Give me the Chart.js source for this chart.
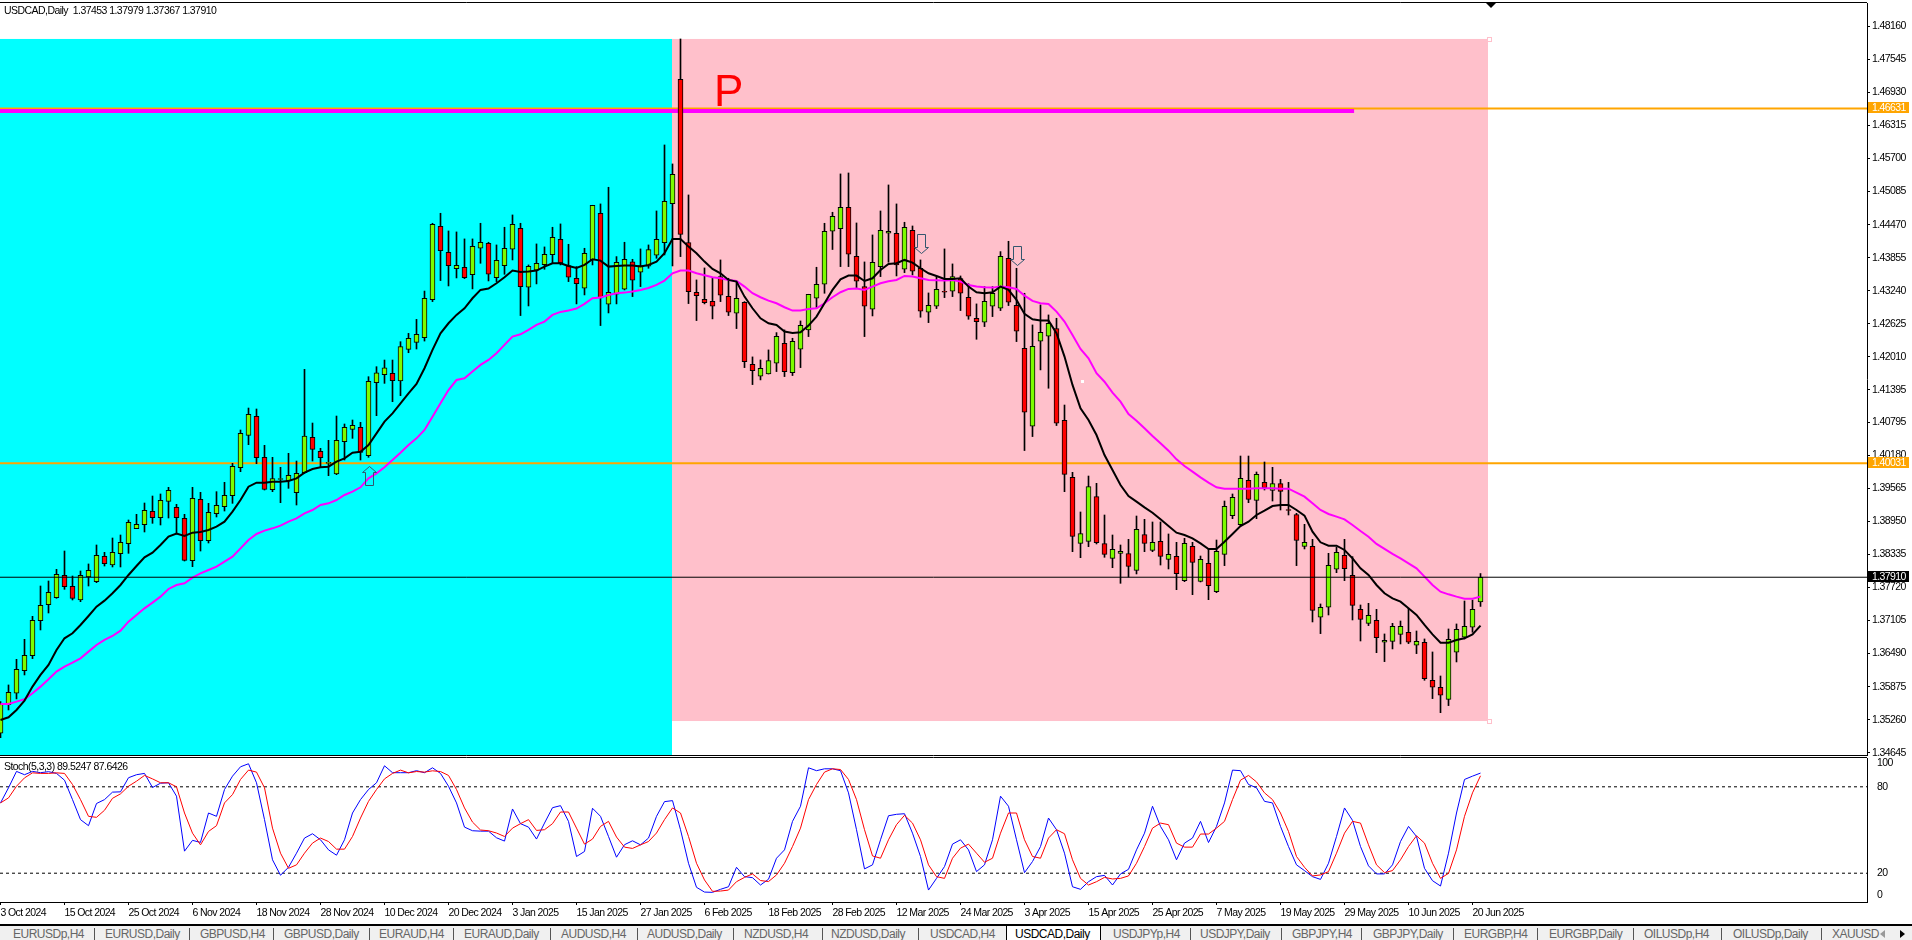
<!DOCTYPE html>
<html>
<head>
<meta charset="utf-8">
<title>USDCAD,Daily</title>
<script src="https://cdn.jsdelivr.net/npm/chart.js@4"></script>
<style>
  html, body { margin: 0; padding: 0; background: #fff; width: 1912px; height: 940px; overflow: hidden; }
  body { position: relative; font-family: "Liberation Sans", sans-serif; }
  canvas { position: absolute; left: 0; }
  #chartPrecio { top: 0; z-index: 1; }
  #chartStoch { top: 750px; z-index: 2; }
  .rotulo { position: absolute; white-space: nowrap; z-index: 3; color: #000; font-size: 10.5px; line-height: 13px; letter-spacing: -0.55px; }
  #tabs { position: absolute; left: 0; top: 924px; width: 1912px; height: 16px; background: #f0f0f0; border-top: 2px solid #000; box-sizing: border-box; overflow: hidden; z-index: 3; }
  #tabs span { position: absolute; top: 1px; font-size: 12px; line-height: 15px; letter-spacing: -0.5px; color: #666; white-space: nowrap; }
  #tabs i { position: absolute; top: 2px; width: 1px; height: 15px; background: #555; }
  #tabActiva { position: absolute; left: 1006px; top: -2px; width: 95px; height: 19px; background: #fff; border-left: 1px solid #000; border-right: 1px solid #000; box-sizing: border-box; }
  .tri { position: absolute; top: 4px; width: 0; height: 0; border-top: 4px solid transparent; border-bottom: 4px solid transparent; }
</style>
</head>
<body>
<canvas id="chartPrecio" width="1912" height="770"></canvas>
<canvas id="chartStoch" width="1912" height="180"></canvas>
<div class="rotulo" style="left:4px;top:4px;">USDCAD,Daily &nbsp;1.37453 1.37979 1.37367 1.37910</div>
<div class="rotulo" style="left:4px;top:760px;">Stoch(5,3,3) 89.5247 87.6426</div>
<div class="rotulo" style="left:714px;top:66px;font-size:44px;line-height:50px;letter-spacing:0;color:#ff0000;">P</div>
<div id="tabs"><div id="tabActiva"></div></div>
<script>
// velas diarias USDCAD
const opens = [
  1.35007,1.35540,1.35751,1.36173,1.36452,1.37103,1.37400,1.37530,1.37947,1.37741,
  1.37487,1.37915,1.37828,1.38299,1.38138,1.38349,1.38535,1.38814,1.38888,1.39136,
  1.39018,1.39322,1.39211,1.39006,1.38219,1.39359,1.38591,1.39093,1.39223,1.39428,
  1.39948,1.40550,1.40903,1.40141,1.39539,1.39731,1.39707,1.39483,1.39855,1.40515,
  1.40252,1.40029,1.39831,1.40432,1.40661,1.40699,1.40172,1.41529,1.41678,1.41703,
  1.41560,1.42149,1.42280,1.42366,1.43075,1.44439,1.43956,1.43652,1.43677,1.43540,
  1.44030,1.44123,1.43484,1.43708,1.44011,1.44402,1.43305,1.43621,1.43726,1.43912,
  1.44197,1.43708,1.43472,1.43286,1.43819,1.44681,1.42988,1.43174,1.43267,1.43779,
  1.43584,1.43695,1.43900,1.44135,1.44861,1.47173,1.44135,1.43212,1.43081,1.43044,
  1.43503,1.43137,1.42821,1.43026,1.41872,1.41649,1.41691,1.41891,1.42263,1.41717,
  1.42151,1.42511,1.43100,1.43360,1.44346,1.44396,1.44793,1.43881,1.43317,1.42895,
  1.43689,1.44309,1.44309,1.43639,1.44365,1.43658,1.42840,1.42951,1.43230,1.43230,
  1.43466,1.43119,1.42728,1.42654,1.42951,1.42914,1.43844,1.42970,1.42170,1.40719,
  1.42300,1.42393,1.42536,1.40829,1.39769,1.38541,1.38578,1.39409,1.38535,1.38262,
  1.38355,1.38349,1.38039,1.38702,1.38411,1.38578,1.38243,1.38299,1.37847,1.38485,
  1.37834,1.38169,1.37642,1.38336,1.39056,1.38888,1.39713,1.39341,1.39676,1.39527,
  1.39651,1.39167,1.39074,1.38485,1.38485,1.37165,1.37351,1.38060,1.38318,1.37946,
  1.37313,1.37053,1.37109,1.36700,1.36718,1.36848,1.36886,1.36644,1.36700,1.35993,
  1.35863,1.35639,1.36514,1.36793,1.36979,1.37453
];
const closes = [
  1.35553,1.35770,1.36197,1.36458,1.37109,1.37388,1.37630,1.37964,1.37735,1.37518,
  1.37947,1.38039,1.38318,1.38163,1.38374,1.38560,1.38932,1.38894,1.39155,1.39018,
  1.39341,1.39527,1.39018,1.38225,1.39378,1.38591,1.39118,1.39248,1.39434,1.39973,
  1.40587,1.40940,1.40134,1.39545,1.39744,1.39744,1.39806,1.39843,1.40537,1.40289,
  1.40134,1.40048,1.40457,1.40699,1.40736,1.40234,1.41554,1.41715,1.41808,1.41567,
  1.42199,1.42354,1.42428,1.43098,1.44476,1.43987,1.43708,1.43714,1.43484,1.44067,
  1.44142,1.43546,1.43807,1.44030,1.44476,1.43317,1.43695,1.43751,1.43918,1.44235,
  1.43757,1.43491,1.43373,1.43937,1.44830,1.43106,1.43212,1.43770,1.43825,1.43435,
  1.43708,1.44005,1.44197,1.44904,1.45406,1.44290,1.43224,1.43150,1.43019,1.42951,
  1.43156,1.42840,1.43100,1.41922,1.41755,1.41798,1.41941,1.42393,1.41736,1.42300,
  1.42598,1.43174,1.43360,1.44346,1.44625,1.44793,1.43918,1.43416,1.42951,1.43770,
  1.44365,1.44346,1.43720,1.44421,1.43602,1.42858,1.42970,1.43267,1.43212,1.43503,
  1.43193,1.42765,1.42666,1.43044,1.43193,1.43881,1.43026,1.42486,1.40980,1.42207,
  1.42468,1.42635,1.40775,1.39824,1.38671,1.38721,1.39595,1.38553,1.38336,1.38429,
  1.38392,1.38113,1.38801,1.38541,1.38560,1.38299,1.38336,1.37977,1.38541,1.38188,
  1.38243,1.37754,1.38392,1.39229,1.39397,1.39750,1.39359,1.39824,1.39576,1.39651,
  1.39508,1.39155,1.38597,1.38560,1.37295,1.37351,1.38132,1.38374,1.38070,1.37388,
  1.37127,1.37202,1.36786,1.36737,1.36997,1.36997,1.36700,1.36718,1.36024,1.35863,
  1.35714,1.36755,1.36941,1.36997,1.37313,1.37910
];
const highs = [
  1.35596,1.35906,1.36383,1.36755,1.37183,1.37747,1.37840,1.38057,1.38398,1.37933,
  1.38026,1.38157,1.38510,1.38374,1.38640,1.38696,1.38975,1.39080,1.39291,1.39421,
  1.39459,1.39583,1.39266,1.39080,1.39583,1.39490,1.39285,1.39502,1.39676,1.40029,
  1.40649,1.41058,1.41040,1.40364,1.40141,1.39955,1.40215,1.40072,1.41777,1.40779,
  1.40308,1.40457,1.40909,1.40761,1.40835,1.40792,1.41641,1.41827,1.41951,1.41951,
  1.42292,1.42447,1.42707,1.43234,1.44495,1.44681,1.44352,1.44334,1.44204,1.44204,
  1.44495,1.44142,1.44092,1.44421,1.44650,1.44495,1.43720,1.44111,1.44055,1.44421,
  1.44483,1.44104,1.43689,1.44030,1.44830,1.44855,1.45165,1.43875,1.44142,1.43825,
  1.44018,1.44092,1.44724,1.45952,1.45599,1.47924,1.45022,1.43441,1.43664,1.43472,
  1.43813,1.43472,1.43410,1.43038,1.42009,1.41953,1.42139,1.42461,1.42511,1.42356,
  1.42678,1.43174,1.43677,1.44495,1.44700,1.45413,1.45431,1.44501,1.43776,1.44278,
  1.44724,1.45208,1.44855,1.44514,1.44445,1.43813,1.43199,1.43503,1.44018,1.43739,
  1.43515,1.43369,1.42995,1.43317,1.43317,1.43968,1.44160,1.43658,1.43193,1.42604,
  1.42976,1.42790,1.42728,1.41114,1.39862,1.39124,1.39793,1.39657,1.39068,1.38696,
  1.38510,1.38615,1.39049,1.38987,1.38938,1.38938,1.38715,1.38560,1.38634,1.38560,
  1.38305,1.38448,1.38603,1.39328,1.39459,1.40165,1.40165,1.39868,1.40054,1.39955,
  1.39731,1.39676,1.39099,1.38894,1.38615,1.37413,1.38355,1.38467,1.38615,1.38293,
  1.37394,1.37425,1.37313,1.36855,1.37053,1.37096,1.37332,1.36910,1.36762,1.36520,
  1.36073,1.36948,1.37041,1.37468,1.37487,1.37979
];
const lows = [
  1.34926,1.35441,1.35646,1.36092,1.36396,1.36929,1.37245,1.37518,1.37685,1.37487,
  1.37456,1.37747,1.37809,1.38119,1.38101,1.38101,1.38355,1.38814,1.38752,1.38913,
  1.38882,1.39012,1.38715,1.38212,1.38107,1.38398,1.38547,1.39031,1.39142,1.39285,
  1.39874,1.40376,1.40023,1.39533,1.39502,1.39297,1.39564,1.39254,1.39843,1.40072,
  1.39955,1.39800,1.39818,1.40091,1.40494,1.40091,1.40141,1.40916,1.41517,1.41176,
  1.41288,1.42087,1.42156,1.42304,1.43038,1.43429,1.43329,1.43478,1.43466,1.43274,
  1.43751,1.43422,1.43410,1.43546,1.43813,1.42778,1.42957,1.43367,1.43639,1.43751,
  1.43720,1.43410,1.42995,1.43162,1.43720,1.42592,1.42827,1.42995,1.43255,1.43131,
  1.43317,1.43658,1.43844,1.43906,1.43701,1.43875,1.43001,1.42685,1.42995,1.42716,
  1.43038,1.42778,1.42536,1.41810,1.41494,1.41581,1.41691,1.41736,1.41643,1.41662,
  1.41810,1.42387,1.42914,1.43193,1.44007,1.43689,1.43689,1.43286,1.42387,1.42771,
  1.43503,1.43770,1.43515,1.43577,1.43534,1.42747,1.42647,1.42908,1.43112,1.43131,
  1.42871,1.42709,1.42337,1.42573,1.42759,1.42871,1.42964,1.42294,1.40267,1.40527,
  1.41767,1.41426,1.40732,1.39502,1.38386,1.38274,1.38479,1.38529,1.38281,1.38088,
  1.37797,1.37915,1.37971,1.38386,1.38386,1.38137,1.38064,1.37679,1.37828,1.37586,
  1.37822,1.37493,1.37623,1.38126,1.39000,1.38863,1.39297,1.39000,1.39533,1.39328,
  1.39161,1.39068,1.38126,1.38436,1.37078,1.36861,1.37208,1.37995,1.37847,1.37115,
  1.36724,1.37010,1.36507,1.36340,1.36576,1.36669,1.36675,1.36489,1.35993,1.35652,
  1.35391,1.35522,1.36334,1.36762,1.36886,1.37367
];

// medias moviles
const maRapida = [
  1.35255,1.35305,1.35441,1.35615,1.35875,1.36092,1.36278,1.36557,1.36774,1.36867,
  1.37022,1.37189,1.37363,1.37475,1.37611,1.37766,1.37952,1.38119,1.38281,1.38367,
  1.38510,1.38665,1.38721,1.38677,1.38739,1.38752,1.38789,1.38851,1.38944,1.39130,
  1.39347,1.39595,1.39669,1.39669,1.39688,1.39688,1.39700,1.39750,1.39855,1.39924,
  1.39955,1.39967,1.40060,1.40122,1.40227,1.40246,1.40370,1.40587,1.40804,1.40959,
  1.41145,1.41331,1.41505,1.41798,1.42139,1.42449,1.42635,1.42790,1.42914,1.43100,
  1.43255,1.43280,1.43379,1.43491,1.43615,1.43590,1.43596,1.43615,1.43689,1.43751,
  1.43751,1.43701,1.43664,1.43720,1.43825,1.43801,1.43689,1.43701,1.43708,1.43708,
  1.43689,1.43720,1.43782,1.43937,1.44204,1.44204,1.44061,1.43937,1.43782,1.43646,
  1.43565,1.43441,1.43410,1.43131,1.42914,1.42728,1.42635,1.42604,1.42480,1.42455,
  1.42468,1.42592,1.42759,1.43007,1.43255,1.43453,1.43522,1.43522,1.43422,1.43472,
  1.43627,1.43739,1.43751,1.43813,1.43763,1.43658,1.43565,1.43515,1.43460,1.43460,
  1.43472,1.43317,1.43212,1.43193,1.43212,1.43317,1.43255,1.43069,1.42809,1.42709,
  1.42685,1.42685,1.42449,1.42015,1.41488,1.41054,1.40835,1.40556,1.40184,1.39905,
  1.39626,1.39421,1.39316,1.39211,1.39111,1.38987,1.38863,1.38739,1.38696,1.38634,
  1.38541,1.38436,1.38436,1.38572,1.38715,1.38863,1.38944,1.39068,1.39149,1.39235,
  1.39254,1.39254,1.39161,1.39056,1.38758,1.38560,1.38498,1.38498,1.38417,1.38262,
  1.38076,1.37952,1.37766,1.37611,1.37518,1.37456,1.37332,1.37208,1.37022,1.36848,
  1.36693,1.36693,1.36743,1.36774,1.36848,1.37010
];
const maLenta = [
  1.35553,1.35553,1.35596,1.35639,1.35751,1.35875,1.36011,1.36154,1.36247,1.36321,
  1.36402,1.36526,1.36650,1.36743,1.36817,1.36917,1.37084,1.37208,1.37332,1.37437,
  1.37549,1.37692,1.37766,1.37797,1.37902,1.37983,1.38045,1.38107,1.38200,1.38293,
  1.38448,1.38603,1.38715,1.38777,1.38820,1.38870,1.38944,1.39006,1.39099,1.39161,
  1.39254,1.39285,1.39347,1.39440,1.39502,1.39583,1.39750,1.39843,1.39955,1.40091,
  1.40227,1.40370,1.40494,1.40649,1.40897,1.41145,1.41393,1.41579,1.41612,1.41736,
  1.41860,1.41953,1.42077,1.42232,1.42387,1.42430,1.42511,1.42604,1.42666,1.42790,
  1.42846,1.42871,1.42908,1.42995,1.43100,1.43112,1.43162,1.43193,1.43205,1.43224,
  1.43255,1.43292,1.43348,1.43429,1.43565,1.43615,1.43615,1.43565,1.43528,1.43491,
  1.43472,1.43441,1.43422,1.43317,1.43193,1.43119,1.43057,1.43007,1.42933,1.42871,
  1.42871,1.42902,1.42914,1.43007,1.43119,1.43212,1.43274,1.43280,1.43255,1.43317,
  1.43379,1.43416,1.43441,1.43515,1.43503,1.43472,1.43441,1.43435,1.43429,1.43441,
  1.43410,1.43348,1.43317,1.43305,1.43298,1.43317,1.43305,1.43274,1.43150,1.43050,
  1.43007,1.42995,1.42852,1.42666,1.42418,1.42158,1.41984,1.41705,1.41548,1.41343,
  1.41176,1.40947,1.40823,1.40680,1.40537,1.40401,1.40265,1.40103,1.39979,1.39874,
  1.39769,1.39669,1.39583,1.39558,1.39558,1.39558,1.39558,1.39564,1.39564,1.39564,
  1.39558,1.39558,1.39483,1.39409,1.39285,1.39161,1.39087,1.39037,1.38987,1.38882,
  1.38770,1.38665,1.38529,1.38436,1.38343,1.38262,1.38169,1.38076,1.37921,1.37766,
  1.37642,1.37592,1.37549,1.37512,1.37512,1.37549
];

// estocastico (5,3,3)
const stochMain = [
  68.8,79.3,90.7,88.4,90.7,89.8,90.5,89.3,84.6,71.1,57.2,53,68.4,71.1,76.3,76.5,86.3,88.4,89.3,79.5,
  82.5,82.8,73.5,35.3,42.8,41.4,61.8,59.5,78.1,87.4,93.9,96,82.8,57.2,29.3,18.6,24.1,33.9,44.4,47.4,
  43.2,36.2,32.5,43.2,61.8,71.1,78.1,82.8,94.6,89.8,89.8,89.8,91.2,89.8,93.2,89.3,80.4,68.8,52,49.5,
  49.2,49.2,44.6,42.3,64.6,54.4,52,43.7,54.8,65.5,66.9,56,31.6,35.1,65.1,59.5,45.5,31.1,39.8,42.5,
  39.7,44.4,59.5,69.7,70.4,50.2,26.9,10.2,6.9,6.7,8.8,10.6,24.1,17.6,16.9,11.8,15.8,30.4,36.2,56,
  66.5,93.2,91.2,92.5,92.5,91.2,75.8,50.2,23,25.8,43.2,59.9,60.9,61.3,47.8,31.6,8.3,16.4,24.6,40.2,
  43.2,36.2,21.1,25.8,43.2,73.5,66.5,43.2,20.4,28.1,38.5,58.3,50.2,33.9,10.6,8.8,14.1,17.6,18.5,11.8,
  19.5,22.7,36.2,47.8,66.5,52.5,43.2,29.3,40.9,44.4,56,41.3,52.5,68.8,91.6,91.2,81.6,79.3,69.9,68.8,
  52.5,38.5,25.8,21.8,17.6,15.7,26.9,45.5,65.3,56.7,38.5,25.1,19.5,19.5,25.8,42,52.5,45.5,23.4,14.8,
  11.1,33.9,61.8,85.1,87.4,89.52
];
const stochSignal = [
  68.8,72.3,80.4,86.2,89.7,89.3,89.3,89.7,89.3,81.6,71.1,59.5,58.8,63.7,72,75.1,80.4,83.9,87.9,85.5,
  82.8,82.8,80,61.8,47.8,39.7,49,53,68.8,74.6,85.1,91.6,90.2,79.3,51.3,33.9,23.4,25.8,33.9,40.9,
  44.4,42,36.7,36.7,45.5,58.3,69.9,78.1,85.5,89.3,91.6,89.7,90.6,90.2,91.1,90.6,87.9,78.1,65.3,55.5,
  50,49.5,47.9,45.5,51.3,54.4,57.2,49.7,50.2,54.4,62.5,62.5,51.3,40.2,43.7,52.5,56,45.1,38.1,37.2,
  39.7,42,47.9,57.2,65.3,61.8,45.5,26.9,15.3,7.4,7.6,8.3,14.1,17.1,19.5,14.9,14.2,18.8,26.9,38.5,
  51.3,71.1,81.6,90.2,92.5,92,85.1,71.1,50.2,32,30.4,43.2,53.7,60.2,54.8,43.2,25.8,17.6,16.4,30.4,
  37.4,40.2,33.9,27.6,30.4,47.8,61.8,61.8,43.2,31.6,30.4,44.4,50.2,47.4,29.3,16.4,11.8,14.1,17.1,16,
  16.4,18.1,26.9,38.5,51.3,54.8,53.7,40.9,38.1,38.1,47.2,47.2,51.3,56,71.1,84.6,87.9,83.4,75.8,71.1,
  61.8,49,31.6,24.1,18.1,18.8,21.1,33.9,47.8,56,54.8,39.7,25.8,20.4,21.8,29.3,38.5,46,40.9,26.9,
  16.4,19.9,36.2,59.5,75.8,87.64
];

// ejes
const priceTicks = [1.48160,1.47545,1.46930,1.46315,1.45700,1.45085,1.44470,1.43855,1.43240,1.42625,1.42010,1.41395,1.40795,1.40180,1.39565,1.38950,1.38335,1.37720,1.37105,1.36490,1.35875,1.35260,1.34645];
const dateTickBars = [0,8,16,24,32,40,48,56,64,72,80,88,96,104,112,120,128,136,144,152,160,168,176,184];
const dateLabels = ['3 Oct 2024','15 Oct 2024','25 Oct 2024','6 Nov 2024','18 Nov 2024','28 Nov 2024','10 Dec 2024','20 Dec 2024','3 Jan 2025','15 Jan 2025','27 Jan 2025','6 Feb 2025','18 Feb 2025','28 Feb 2025','12 Mar 2025','24 Mar 2025','3 Apr 2025','15 Apr 2025','25 Apr 2025','7 May 2025','19 May 2025','29 May 2025','10 Jun 2025','20 Jun 2025'];
const stochTickPos = [96.2,80,20,4.9];
const stochTickLabels = ['100','80','20','0'];

// objetos dibujados en el grafico
const resistencia = 1.46631;
const soporte = 1.40031;
const ultimoPrecio = 1.37910;
const lineaP = 1.46584;
const lineaPFin = 169.2;
const zonaAzul = [-1, 84, 1.47924, 1.34603];
const zonaRosa = [84, 186, 1.47924, 1.35235];
const flechaArriba = [[46, 1.39626]];
const flechasAbajo = [[115, 1.44296], [127, 1.44073]];

// pestañas
const tabNames = ['EURUSDp,H4','EURUSD,Daily','GBPUSD,H4','GBPUSD,Daily','EURAUD,H4','EURAUD,Daily','AUDUSD,H4','AUDUSD,Daily','NZDUSD,H4','NZDUSD,Daily','USDCAD,H4','USDCAD,Daily','USDJPYp,H4','USDJPY,Daily','GBPJPY,H4','GBPJPY,Daily','EURGBP,H4','EURGBP,Daily','OILUSDp,H4','OILUSDp,Daily','XAUUSD'];
const tabLeft = [13,105,200,284,379,464,561,647,744,831,930,1015,1113,1200,1292,1373,1464,1549,1644,1733,1832];
const tabSeps = [94,189,273,369,453,550,637,733,822,918,1190,1281,1361,1453,1537,1633,1721,1821];

const tabsBox = document.getElementById('tabs');
tabNames.forEach(function (name, i) {
    const s = document.createElement('span');
    s.textContent = name;
    s.style.left = tabLeft[i] + 'px';
    if (name === 'USDCAD,Daily') s.style.color = '#000';
    tabsBox.appendChild(s);
});
tabSeps.forEach(function (x) {
    const sep = document.createElement('i');
    sep.style.left = x + 'px';
    tabsBox.appendChild(sep);
});
// flechitas de desplazamiento de las pestañas
const triIzq = document.createElement('div');
triIzq.className = 'tri';
triIzq.style.cssText = 'left:1880px;border-right:5px solid #999;';
tabsBox.appendChild(triIzq);
const triDer = document.createElement('div');
triDer.className = 'tri';
triDer.style.cssText = 'left:1900px;border-left:5px solid #000;';
tabsBox.appendChild(triDer);

const BAR_PX = 8;
const AREA_W = 1867;
const xMin = -0.0625;
const xMax = xMin + AREA_W / BAR_PX;
const colorVerde = '#7cfc00';
const colorRojo = '#ff0000';
const colorNaranja = '#ffa500';
const colorMagenta = '#ff00ff';
const fuenteEje = { family: 'Liberation Sans', size: 10.5 };

function linea(valor, desde, hasta, color, ancho, order, dash) {
    return {
        type: 'line',
        data: [{ x: desde, y: valor }, { x: hasta, y: valor }],
        borderColor: color,
        borderWidth: ancho,
        borderDash: dash || [],
        pointRadius: 0,
        tension: 0,
        order: order
    };
}

function serie(valores, color, ancho, order) {
    return {
        type: 'line',
        data: valores.map(function (v, i) { return { x: i, y: v }; }),
        borderColor: color,
        borderWidth: ancho,
        pointRadius: 0,
        tension: 0,
        order: order
    };
}

function flecha(ctx, x, y, dir, relleno) {
    // dir = 1 apunta hacia abajo, -1 hacia arriba, y es la base del asta
    ctx.beginPath();
    ctx.moveTo(x - 4, y);
    ctx.lineTo(x + 4, y);
    ctx.lineTo(x + 4, y + dir * 13);
    ctx.lineTo(x + 7, y + dir * 13);
    ctx.lineTo(x, y + dir * 19);
    ctx.lineTo(x - 7, y + dir * 13);
    ctx.lineTo(x - 4, y + dir * 13);
    ctx.closePath();
    if (relleno) { ctx.fillStyle = relleno; ctx.fill(); }
    ctx.lineWidth = 1;
    ctx.strokeStyle = '#33566e';
    ctx.stroke();
}

// el texto de la plataforma es mas estrecho que Liberation Sans
const textoEstrecho = {
    id: 'textoEstrecho',
    beforeDraw(chart) { chart.ctx.letterSpacing = '-0.6px'; }
};

const fondoPlugin = {
    id: 'fondo',
    beforeDatasetsDraw(chart) {
        const { ctx, scales: { x, y }, chartArea } = chart;
        ctx.save();
        ctx.beginPath();
        ctx.rect(chartArea.left, chartArea.top, chartArea.width, chartArea.height);
        ctx.clip();
        ctx.fillStyle = '#00ffff';
        ctx.fillRect(x.getPixelForValue(zonaAzul[0]), y.getPixelForValue(zonaAzul[2]),
            x.getPixelForValue(zonaAzul[1]) - 0.5 - x.getPixelForValue(zonaAzul[0]),
            y.getPixelForValue(zonaAzul[3]) - y.getPixelForValue(zonaAzul[2]));
        ctx.fillStyle = '#ffc0cb';
        ctx.fillRect(x.getPixelForValue(zonaRosa[0]) - 0.5, y.getPixelForValue(zonaRosa[2]),
            x.getPixelForValue(zonaRosa[1]) - x.getPixelForValue(zonaRosa[0]),
            y.getPixelForValue(zonaRosa[3]) - y.getPixelForValue(zonaRosa[2]));
        ctx.restore();
    },
    afterDraw(chart) {
        const { ctx, scales: { x, y }, chartArea } = chart;
        ctx.save();
        // marco
        ctx.strokeStyle = '#000';
        ctx.lineWidth = 1;
        ctx.beginPath();
        ctx.moveTo(0, chartArea.top - 0.5); ctx.lineTo(chartArea.right, chartArea.top - 0.5);
        ctx.moveTo(0, chartArea.bottom + 0.5); ctx.lineTo(chartArea.right, chartArea.bottom + 0.5);
        ctx.stroke();
        // flechas
        flechaArriba.forEach(function (f) { flecha(ctx, Math.round(x.getPixelForValue(f[0])) + 0.5, Math.round(y.getPixelForValue(f[1])) + 0.5, -1, null); });
        flechasAbajo.forEach(function (f) { flecha(ctx, Math.round(x.getPixelForValue(f[0])) + 0.5, Math.round(y.getPixelForValue(f[1])) + 0.5, 1, '#ffc0cb'); });
        // puntos de anclaje del rectangulo
        const xr = Math.round(x.getPixelForValue(zonaRosa[1]));
        const yt = Math.round(y.getPixelForValue(zonaRosa[2]));
        const yb = Math.round(y.getPixelForValue(zonaRosa[3]));
        ctx.fillStyle = '#fff';
        ctx.strokeStyle = '#ffc0cb';
        [yt, yb].forEach(function (py) {
            ctx.fillRect(xr - 2, py - 2, 4, 4);
            ctx.strokeRect(xr - 1.5, py - 1.5, 4, 4);
        });
        ctx.fillRect(Math.round((xr + 672) / 2), Math.round((yt + yb) / 2), 3, 3);
        // marca de turno arriba
        ctx.fillStyle = '#000';
        ctx.beginPath();
        ctx.moveTo(1486, 3); ctx.lineTo(1496, 3); ctx.lineTo(1491, 8); ctx.closePath();
        ctx.fill();
        // etiquetas de precio
        ctx.font = '10.5px "Liberation Sans"';
        ctx.textBaseline = 'middle';
        ctx.textAlign = 'left';
        [[resistencia, colorNaranja], [soporte, colorNaranja], [ultimoPrecio, '#000']].forEach(function (t) {
            const py = y.getPixelForValue(t[0]);
            ctx.fillStyle = t[1];
            ctx.fillRect(1868, Math.round(py) - 6, 41, 11);
            ctx.fillStyle = '#fff';
            ctx.fillText(t[0].toFixed(5), 1872, Math.round(py));
        });
        ctx.restore();
    }
};

new Chart(document.getElementById('chartPrecio'), {
    type: 'bar',
    data: {
        datasets: [
            linea(soporte, xMin, xMax, colorNaranja, 2, 8),
            linea(resistencia, xMin, xMax, colorNaranja, 2, 8),
            linea(lineaP, xMin, lineaPFin, colorMagenta, 4, 7),
            {
                data: highs.map(function (h, i) { return { x: i, y: [lows[i], h] }; }),
                backgroundColor: '#000',
                barThickness: 1,
                grouped: false,
                order: 6
            },
            {
                data: opens.map(function (o, i) { return { x: i, y: [o, closes[i]] }; }),
                backgroundColor: closes.map(function (c, i) { return c >= opens[i] ? colorVerde : colorRojo; }),
                borderColor: '#000',
                borderWidth: 1,
                borderSkipped: false,
                barThickness: 5,
                grouped: false,
                order: 5
            },
            serie(maLenta, colorMagenta, 2, 4),
            serie(maRapida, '#000', 2, 3),
            linea(ultimoPrecio, xMin, xMax, '#000', 1, 2)
        ]
    },
    options: {
        responsive: false,
        animation: false,
        events: [],
        layout: { padding: { top: 3, bottom: 15, left: 0, right: 0 } },
        plugins: { legend: { display: false }, tooltip: { enabled: false } },
        scales: {
            x: {
                type: 'linear', display: false, offset: false,
                min: xMin, max: xMax,
                grid: { display: false, offset: false }
            },
            y: {
                position: 'right',
                min: 1.34603,
                max: 1.48593,
                afterBuildTicks(scale) { scale.ticks = priceTicks.map(function (v) { return { value: v }; }); },
                afterFit(scale) { scale.width = 45; scale.paddingTop = 0; scale.paddingBottom = 0; },
                border: { display: true, color: '#000', width: 1 },
                grid: { drawOnChartArea: false, drawTicks: true, tickLength: 3, color: '#000' },
                ticks: {
                    autoSkip: false, padding: 2, color: '#000',
                    font: fuenteEje,
                    callback: function (v) { return v.toFixed(5); }
                }
            }
        }
    },
    plugins: [textoEstrecho, fondoPlugin]
});

const marcoStoch = {
    id: 'marcoStoch',
    afterDraw(chart) {
        const { ctx, chartArea } = chart;
        ctx.save();
        ctx.strokeStyle = '#000';
        ctx.lineWidth = 1;
        ctx.beginPath();
        ctx.moveTo(0, chartArea.top - 0.5); ctx.lineTo(chartArea.right, chartArea.top - 0.5);
        ctx.stroke();
        ctx.restore();
    }
};

new Chart(document.getElementById('chartStoch'), {
    type: 'line',
    data: {
        datasets: [
            linea(80, xMin, xMax, '#000', 1, 4, [3, 3]),
            linea(20, xMin, xMax, '#000', 1, 4, [3, 3]),
            serie(stochMain, '#0000ff', 1, 3),
            serie(stochSignal, '#ff0000', 1, 2)
        ]
    },
    options: {
        responsive: false,
        animation: false,
        events: [],
        layout: { padding: { top: 8, bottom: 8, left: 0, right: 0 } },
        plugins: { legend: { display: false }, tooltip: { enabled: false } },
        scales: {
            x: {
                type: 'linear',
                min: xMin, max: xMax,
                afterBuildTicks(scale) { scale.ticks = dateTickBars.map(function (v) { return { value: v }; }); },
                afterFit(scale) { scale.height = 20; scale.paddingLeft = 0; scale.paddingRight = 0; },
                border: { display: true, color: '#000', width: 1 },
                grid: { drawOnChartArea: false, drawTicks: true, tickLength: 3, color: '#000' },
                ticks: {
                    autoSkip: false, maxRotation: 0, align: 'start', padding: 2, color: '#000',
                    font: fuenteEje,
                    callback: function (v, i) { return dateLabels[i]; }
                }
            },
            y: {
                position: 'right',
                min: 0, max: 100,
                afterBuildTicks(scale) { scale.ticks = stochTickPos.map(function (v) { return { value: v }; }); },
                afterFit(scale) { scale.width = 45; scale.paddingTop = 0; scale.paddingBottom = 0; },
                border: { display: true, color: '#000', width: 1 },
                grid: { display: false },
                ticks: {
                    autoSkip: false, padding: 2, color: '#000',
                    font: fuenteEje,
                    callback: function (v, i) { return stochTickLabels[i]; }
                }
            }
        }
    },
    plugins: [textoEstrecho, marcoStoch]
});
</script>
</body>
</html>
